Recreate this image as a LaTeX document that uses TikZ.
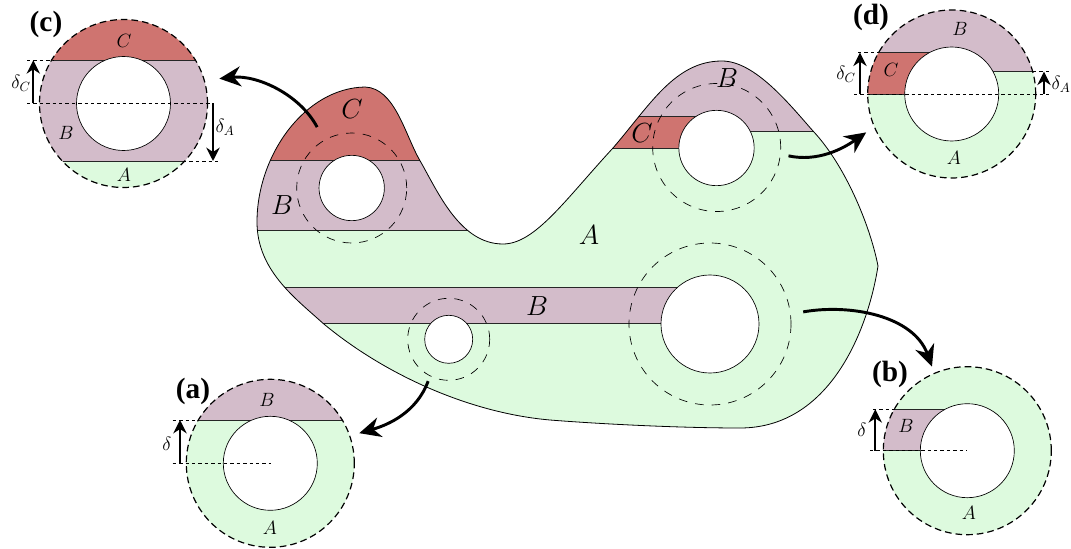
\documentclass[tikz,border=0pt]{standalone}
\usepackage{fontspec}
\usepackage{amsmath}
\usepackage{xcolor}
\usepackage{tikz}
\usetikzlibrary{arrows.meta,calc}
\newfontfamily\panelfont{Liberation Serif}
\definecolor{zoneA}{HTML}{DDFADE}
\definecolor{zoneB}{HTML}{D3BCCA}
\definecolor{zoneC}{HTML}{CF7470}
\newcommand{\bodypath}{(257,222)
  .. controls (257,155) and (305,88) .. (365,87)
  .. controls (395,88) and (405,135) .. (420,160.7)
  .. controls (438,192) and (460,244) .. (503,244)
  .. controls (535,244) and (565,200) .. (613,148)
  .. controls (650,105) and (675,61) .. (722,61)
  .. controls (755,61) and (790,105) .. (813,131)
  .. controls (845,165) and (870,225) .. (878,266)
  .. controls (868,330) and (830,428) .. (740,428)
  .. controls (680,428) and (600,424) .. (550,420)
  .. controls (470,413) and (385,375) .. (323,323.3)
  .. controls (295,298) and (257,270) .. (257,222) -- cycle}
\tikzset{
  % Hole in the body or in a close-up
  holebig/.style={circle,draw=black,line width=0.5pt,fill=white,inner sep=0pt,minimum size=73.5pt},
  holetop/.style={circle,draw=black,line width=0.5pt,fill=white,inner sep=0pt,minimum size=56.5pt},
  holeleft/.style={circle,draw=black,line width=0.5pt,fill=white,inner sep=0pt,minimum size=49pt},
  holesmall/.style={circle,draw=black,line width=0.5pt,fill=white,inner sep=0pt,minimum size=36pt},
  holezoom/.style={circle,draw=black,line width=0.5pt,fill=white,inner sep=0pt,minimum size=70.5pt},
  % Dashed zone round a hole
  zone/.style={circle,draw=black,line width=0.5pt,dash pattern=on 6.5pt off 6pt,inner sep=0pt},
  % Outline of a close-up
  zoom/.style={circle,draw=black,line width=0.9pt,dash pattern=on 5pt off 3pt,inner sep=0pt,minimum size=126pt},
  % Labels
  biglbl/.style={font=\fontsize{21}{24}\selectfont,inner sep=0pt},
  lbl/.style={font=\fontsize{14.5}{17}\selectfont,inner sep=0pt},
  panel/.style={font=\panelfont\bfseries\fontsize{22}{24}\selectfont,inner sep=0pt},
  % Lines and arrows
  edgeln/.style={line width=0.55pt,draw=black!85},
  guide/.style={line width=0.5pt,dash pattern=on 2.6pt off 2.2pt},
  arr/.style={-{Stealth[length=16pt,width=15pt]},line width=2.2pt},
  dim/.style={-{Stealth[length=10pt,width=10pt]},line width=1.7pt},
}
\begin{document}
\begin{tikzpicture}[x=0.75pt,y=-0.75pt]
  \useasboundingbox (0,0) rectangle (1071,549);

  % body and its bands
  \begin{scope}
    \clip \bodypath;
    \fill[zoneA] (240,40) rectangle (900,440);
    \fill[zoneC] (240,60) rectangle (480,160.7);
    \fill[zoneB] (240,160.7) rectangle (480,230);
    \fill[zoneB] (600,40) rectangle (716,116);
    \fill[zoneB] (716,40) rectangle (840,131);
    \fill[zoneC] (580,116) rectangle (716,148.3);
    \fill[zoneB] (270,287) rectangle (710,323.7);
    \foreach \xa/\xb/\yy in {240/480/160.7,240/480/230,580/716/116,580/716/148.3,716/840/131,270/710/287,270/710/323.7}
      \draw[edgeln] (\xa,\yy) -- (\xb,\yy);
  \end{scope}
  \draw[line width=0.6pt] \bodypath;

  \node[holeleft] (holeL) at (351.7,188) {};
  \node[holetop] (holeT) at (716.5,148) {};
  \node[holebig] (holeR) at (710,324) {};
  \node[holesmall] (holeS) at (448.7,339.3) {};

  \node[zone,minimum size=82.5pt] (zoneL) at (351.7,188) {};
  \node[zone,minimum size=96pt] (zoneT) at (716.7,147.5) {};
  \node[zone,minimum size=121.5pt] (zoneR) at (710,324) {};
  \node[zone,minimum size=61.5pt] (zoneS) at (448.7,339.3) {};

  \node[biglbl] (mainC) at (352,109) {$C$};
  \node[biglbl] (mainB) at (282,205) {$B$};
  \node[biglbl] (topC) at (642,133) {$C$};
  \node[biglbl] (topB) at (727,78) {$B$};
  \node[biglbl] (mainA) at (589,235) {$A$};
  \node[biglbl] (bandB) at (537,306) {$B$};

  % close-up (a)
  \fill[zoneA] (270.3,463.3) circle[radius=84];
  \begin{scope}
    \clip (270.3,463.3) circle[radius=84];
    \fill[zoneB] (180,370) rectangle (360,420);
    \draw[edgeln] (180,420) -- (360,420);
  \end{scope}
  \node[holezoom] (holeA) at (270.3,463.3) {};
  \node[zoom] (zoomA) at (270.3,463.3) {};
  \draw[guide] (172.7,420) -- (199,420);
  \draw[guide] (172.7,463.3) -- (270.7,463.3);
  \draw[dim] (180,463.3) -- (180,420);
  \node[lbl] (deltaA) at (167,444) {$\delta$};
  \node[lbl] (zaB) at (267,400) {$B$};
  \node[lbl] (zaA) at (270,528) {$A$};
  \node[panel] (panelA) at (193,391) {(a)};

  % close-up (b)
  \fill[zoneA] (967.3,450.7) circle[radius=84];
  \begin{scope}
    \clip (967.3,450.7) circle[radius=84];
    \fill[zoneB] (870,409.3) rectangle (967.3,450.7);
    \draw[edgeln] (870,409.3) -- (967.3,409.3);
    \draw[edgeln] (870,450.7) -- (967.3,450.7);
  \end{scope}
  \node[holezoom] (holeB) at (967.3,450.7) {};
  \node[zoom] (zoomB) at (967.3,450.7) {};
  \draw[guide] (873,409.3) -- (895,409.3);
  \draw[guide] (870,450.7) -- (967.3,450.7);
  \draw[dim] (875.3,450.7) -- (875.3,409.3);
  \node[lbl] (deltaB) at (862,430) {$\delta$};
  \node[lbl] (zbB) at (906,426) {$B$};
  \node[lbl] (zbA) at (969,513) {$A$};
  \node[panel] (panelB) at (890,374) {(b)};

  % close-up (c)
  \fill[zoneA] (123.5,103.5) circle[radius=84];
  \begin{scope}
    \clip (123.5,103.5) circle[radius=84];
    \fill[zoneC] (30,10) rectangle (220,60.3);
    \fill[zoneB] (30,60.3) rectangle (220,161);
    \draw[edgeln] (30,60.3) -- (220,60.3);
    \draw[edgeln] (30,161) -- (220,161);
  \end{scope}
  \node[holezoom] (holeC) at (123.5,103.5) {};
  \node[zoom] (zoomC) at (123.5,103.5) {};
  \draw[guide] (27,60.3) -- (53,60.3);
  \draw[guide] (27,103.5) -- (213,103.5);
  \draw[guide] (183,161) -- (221,161);
  \draw[dim] (33.3,103.5) -- (33.3,60.3);
  \draw[dim] (213,103.5) -- (213,161);
  \node[lbl] (deltaCC) at (21,83) {$\delta_C$};
  \node[lbl] (deltaCA) at (225,127) {$\delta_A$};
  \node[lbl] (zcC) at (124,41) {$C$};
  \node[lbl] (zcB) at (66,133) {$B$};
  \node[lbl] (zcA) at (124,175) {$A$};
  \node[panel] (panelC) at (46,24) {(c)};

  % close-up (d)
  \fill[zoneA] (951.7,94) circle[radius=84];
  \begin{scope}
    \clip (951.7,94) circle[radius=84];
    \fill[zoneB] (860,0) rectangle (951.7,52.7);
    \fill[zoneB] (951.7,0) rectangle (1040,71.7);
    \fill[zoneC] (860,52.7) rectangle (951.7,94);
    \draw[edgeln] (860,52.7) -- (951.7,52.7);
    \draw[edgeln] (860,94) -- (951.7,94);
    \draw[edgeln] (951.7,71.7) -- (1040,71.7);
  \end{scope}
  \node[holezoom] (holeD) at (951.7,94) {};
  \node[zoom] (zoomD) at (951.7,94) {};
  \draw[guide] (858,52.7) -- (879,52.7);
  \draw[guide] (854,94) -- (1050,94);
  \draw[guide] (1033,71.7) -- (1050,71.7);
  \draw[dim] (860,94) -- (860,52.7);
  \draw[dim] (1044,94) -- (1044,71.7);
  \node[lbl] (deltaDC) at (846,74) {$\delta_C$};
  \node[lbl] (deltaDA) at (1061,84) {$\delta_A$};
  \node[lbl] (zdC) at (891,70) {$C$};
  \node[lbl] (zdB) at (960,29) {$B$};
  \node[lbl] (zdA) at (954,158) {$A$};
  \node[panel] (panelD) at (871,17) {(d)};

  % connectors from the zones to the close-ups
  \draw[arr,shorten <=11pt,shorten >=11pt] (zoneL.120) to[out=118,in=6] (zoomC.16);
  \draw[arr,shorten <=6pt,shorten >=7pt] (zoneT.-6) to[out=-12,in=215] (zoomD.203);
  \draw[arr,shorten <=9.5pt,shorten >=5pt] (zoneR.7) to[out=10,in=110] (zoomB.113.4);
  \draw[arr,shorten <=4pt,shorten >=7pt] (zoneS.243.6) to[out=250,in=16] (zoomA.19.6);

\end{tikzpicture}
\end{document}
